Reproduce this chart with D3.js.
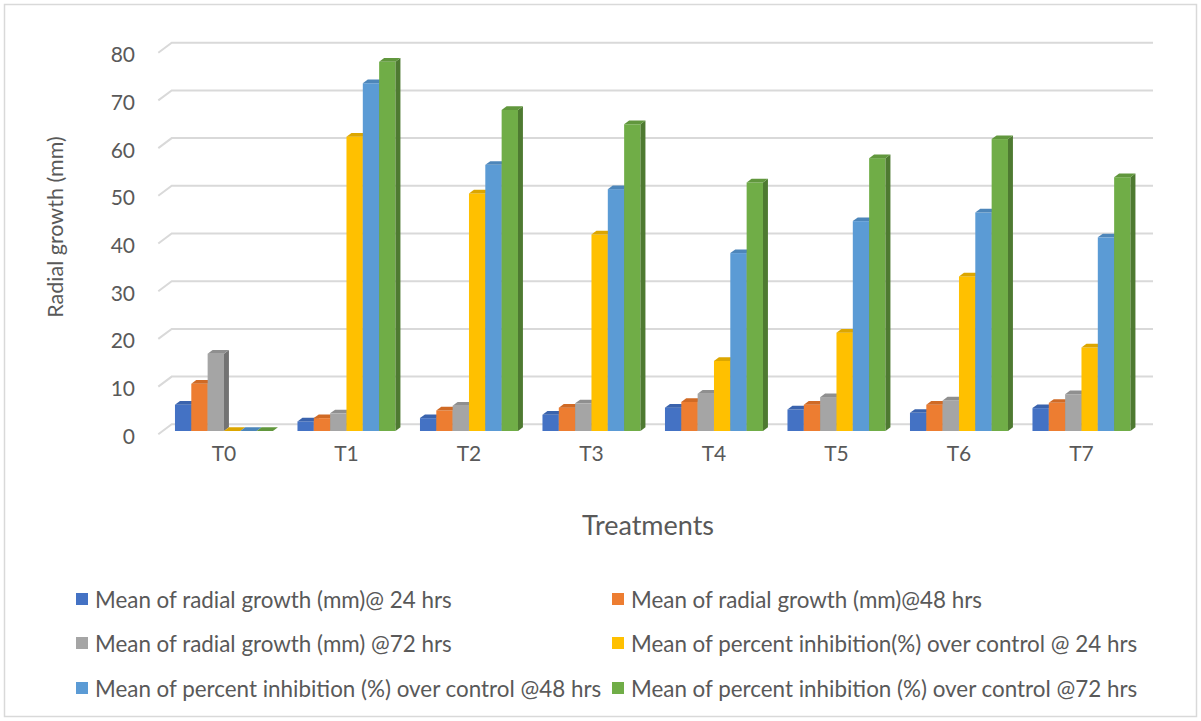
<!DOCTYPE html>
<html>
<head>
<meta charset="utf-8">
<script src="https://cdn.jsdelivr.net/npm/d3@7"></script>
<style>
  html, body { margin: 0; padding: 0; background: #fff; }
  svg { display: block; font-family: Lato, "Open Sans", sans-serif; }
</style>
</head>
<body>
<svg id="chart" width="1201" height="721"></svg>
<script>
// Treatments along the horizontal axis
const categories = ["T0", "T1", "T2", "T3", "T4", "T5", "T6", "T7"];

// Series names, in legend order
const seriesNames = [
  "Mean of radial growth (mm)@ 24 hrs",
  "Mean of radial growth (mm)@48 hrs",
  "Mean of radial growth (mm) @72 hrs",
  "Mean of percent inhibition(%) over control @ 24 hrs",
  "Mean of percent inhibition (%) over control @48 hrs",
  "Mean of percent inhibition (%) over control @72 hrs"
];

// Values per series, one per treatment
const growth24 = [5.5, 2.0, 2.7, 3.4, 4.9, 4.5, 3.8, 4.8];
const growth48 = [9.9, 2.7, 4.3, 4.9, 6.1, 5.5, 5.5, 5.9];
const growth72 = [16.2, 3.7, 5.3, 5.8, 7.8, 7.1, 6.4, 7.7];
const inhib24  = [0, 61.7, 49.8, 41.2, 14.7, 20.6, 32.4, 17.5];
const inhib48  = [0, 72.9, 55.8, 50.7, 37.3, 44.0, 45.8, 40.6];
const inhib72  = [0, 77.4, 67.3, 64.3, 52.1, 57.2, 61.2, 53.2];

// Y axis ticks
const yTicks = [0, 10, 20, 30, 40, 50, 60, 70, 80];

const seriesValues = [growth24, growth48, growth72, inhib24, inhib48, inhib72];

// Face colours: front, top, side
const palette = [
  { front: "#4472C4", top: "#3a63ad", side: "#2f5597" },
  { front: "#ED7D31", top: "#d06a25", side: "#b45a1c" },
  { front: "#A5A5A5", top: "#8f8f8f", side: "#737373" },
  { front: "#FFC000", top: "#dca600", side: "#bf9000" },
  { front: "#5B9BD5", top: "#4d86ba", side: "#41719c" },
  { front: "#70AD47", top: "#61973d", side: "#4e7a31" }
];

const svg = d3.select("#chart");

// Chart frame
svg.append("rect")
  .attr("x", 4.5).attr("y", 4.5)
  .attr("width", 1192).attr("height", 712)
  .attr("fill", "#fff")
  .attr("stroke", "#d9d9d9").attr("stroke-width", 1.5);

// Oblique projection: the floor depth runs right and up
const depthDX = 13.4, depthDY = -10;
const barDepthStart = 0.33;   // fraction of floor depth where bar fronts sit
const barDepth = 0.37;        // bar thickness in depth units

// Front-plane scales
const y = d3.scaleLinear().domain([0, 80]).range([434.3, 52.7]);
const x = d3.scaleBand().domain(categories)
  .range([158.3, 1138.3]).paddingInner(0.2).paddingOuter(0.1);
const xs = d3.scaleBand().domain(d3.range(seriesNames.length))
  .range([0, x.bandwidth()]);

const backX0 = 158.3 + depthDX;
const backX1 = 1153;

// Gridlines on the back wall with the floor-depth slant at the left
const grid = svg.append("g").attr("class", "grid");
yTicks.forEach(t => {
  const yf = y(t);
  grid.append("polyline")
    .attr("points", [
      [158.3, yf],
      [backX0, yf + depthDY],
      [backX1, yf + depthDY]
    ].map(p => p.join(",")).join(" "))
    .attr("fill", "none")
    .attr("stroke", "#d9d9d9")
    .attr("stroke-width", 2);
});

// Y tick labels
svg.append("g").selectAll("text")
  .data(yTicks).join("text")
  .attr("x", 135)
  .attr("y", d => y(d) + 1)
  .attr("text-anchor", "end")
  .attr("dominant-baseline", "central")
  .attr("fill", "#595959")
  .attr("font-size", 21)
  .text(d => d);

// 3D columns
const ox = depthDX * barDepthStart, oy = depthDY * barDepthStart;
const ddx = depthDX * barDepth, ddy = depthDY * barDepth;
const bars = svg.append("g").attr("class", "bars");
categories.forEach((cat, ci) => {
  seriesValues.forEach((vals, si) => {
    const v = vals[ci];
    const x0 = x(cat) + xs(si) + ox;
    const w = xs.bandwidth();
    const yt = y(v) + oy;
    const yb = y(0) + oy;
    const c = palette[si];
    const g = bars.append("g");
    if (yb - yt > 0.01) {
      g.append("rect")
        .attr("x", x0).attr("y", yt)
        .attr("width", w).attr("height", yb - yt)
        .attr("fill", c.front);
      g.append("polygon")
        .attr("points", [[x0 + w, yt], [x0 + w + ddx, yt + ddy], [x0 + w + ddx, yb + ddy], [x0 + w, yb]]
          .map(p => p.join(",")).join(" "))
        .attr("fill", c.side);
    }
    g.append("polygon")
      .attr("points", [[x0, yt], [x0 + ddx, yt + ddy], [x0 + w + ddx, yt + ddy], [x0 + w, yt]]
        .map(p => p.join(",")).join(" "))
      .attr("fill", c.top);
  });
});

// Category labels
svg.append("g").selectAll("text")
  .data(categories).join("text")
  .attr("x", d => x(d) + x.bandwidth() / 2 + ox)
  .attr("y", 452)
  .attr("text-anchor", "middle")
  .attr("dominant-baseline", "central")
  .attr("fill", "#595959")
  .attr("font-size", 21)
  .text(d => d);

// Axis titles
svg.append("text")
  .attr("x", 648).attr("y", 524)
  .attr("text-anchor", "middle")
  .attr("dominant-baseline", "central")
  .attr("fill", "#595959")
  .attr("font-size", 27)
  .text("Treatments");

svg.append("text")
  .attr("transform", "translate(55,227) rotate(-90)")
  .attr("text-anchor", "middle")
  .attr("dominant-baseline", "central")
  .attr("fill", "#595959")
  .attr("font-size", 21.5)
  .text("Radial growth (mm)");

// Legend, two columns
const legendCols = [76, 612];
const legendRows = [599, 643, 688];
const legend = svg.append("g").attr("class", "legend");
seriesNames.forEach((name, i) => {
  const lx = legendCols[i % 2];
  const ly = legendRows[Math.floor(i / 2)];
  legend.append("rect")
    .attr("x", lx).attr("y", ly - 6)
    .attr("width", 12).attr("height", 12)
    .attr("fill", palette[i].front);
  legend.append("text")
    .attr("x", lx + 19).attr("y", ly)
    .attr("dominant-baseline", "central")
    .attr("fill", "#595959")
    .attr("font-size", 22.4)
    .text(name);
});
</script>
</body>
</html>
